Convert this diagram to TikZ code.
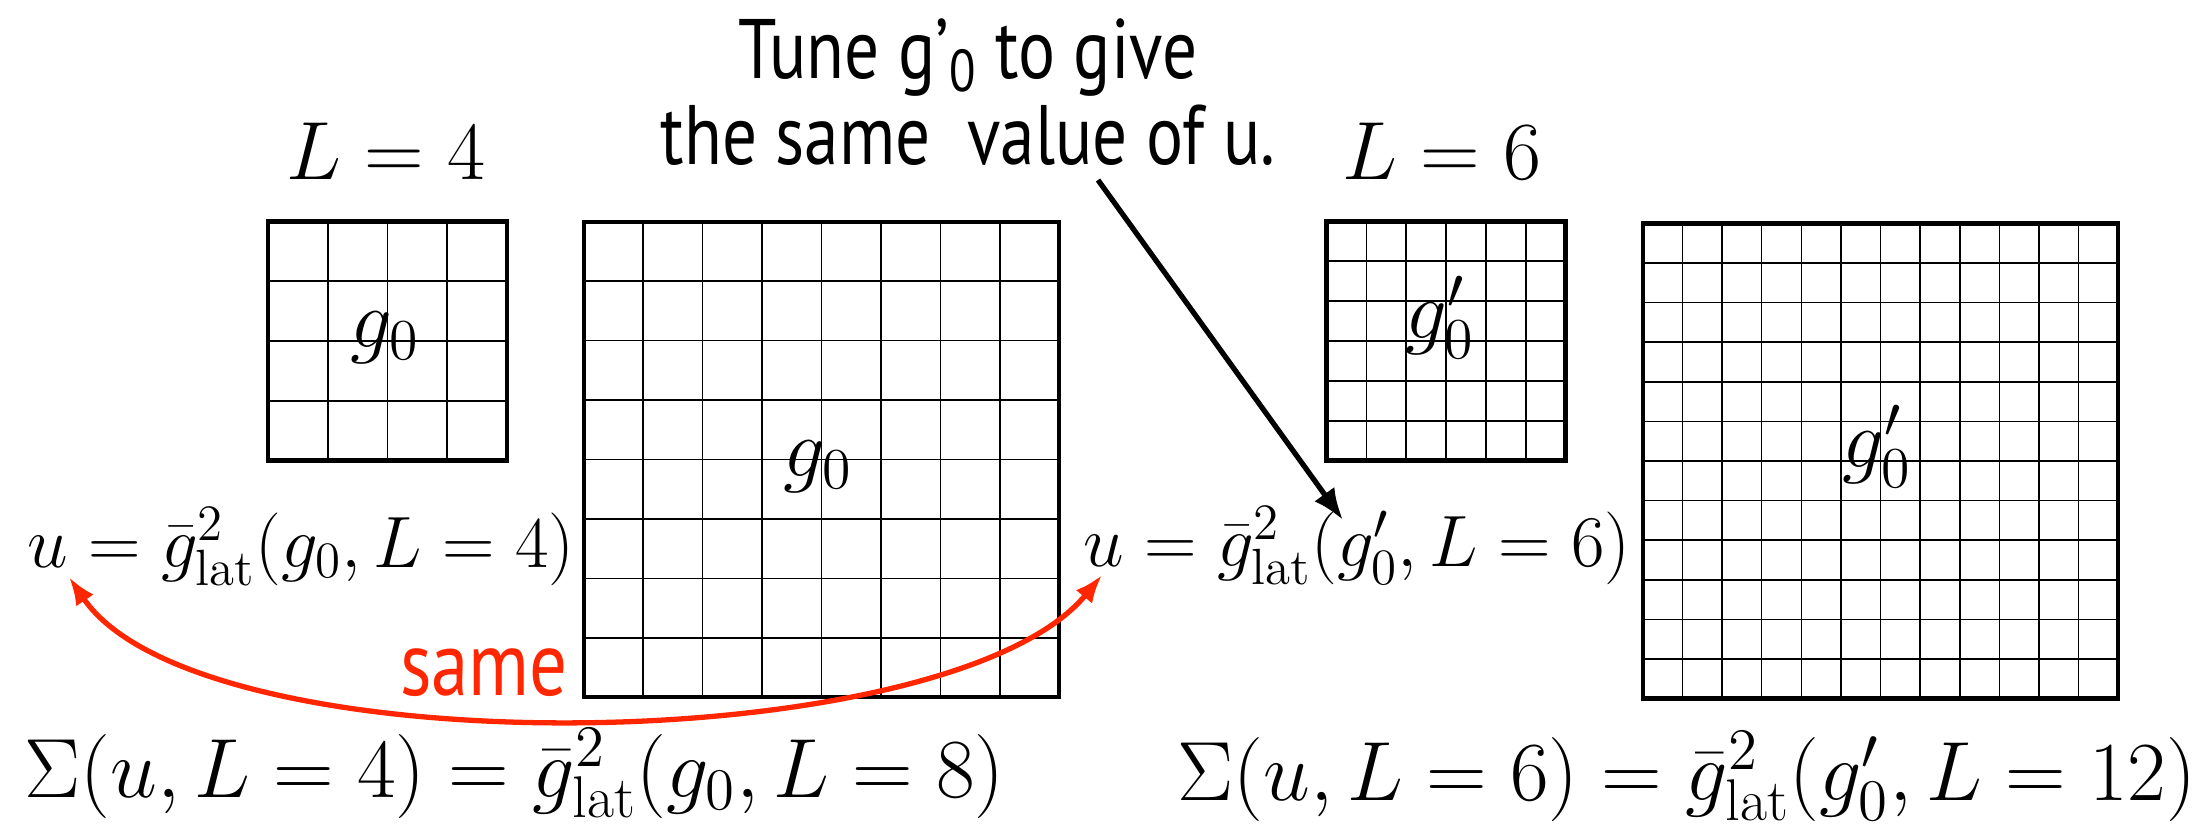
\RequirePackage{fix-cm}
\documentclass[tikz,border=0pt]{standalone}
\usepackage{fontspec}
\newfontfamily\slidefont[FakeStretch=0.82]{PT Sans}
\usetikzlibrary{arrows.meta,calc}
\definecolor{sameRed}{RGB}{255,38,0}
\tikzset{
  lattice frame/.style={draw=black,line width=1.3pt,minimum size=#1,inner sep=0pt,outer sep=0pt},
  lattice line/.style={draw=black,line width=0.45pt},
  math label/.style={font=\fontsize{23.5}{27}\selectfont,inner sep=0pt,anchor=base},
  formula/.style={font=\fontsize{20.7}{24}\selectfont,inner sep=0pt,anchor=base west},
  big formula/.style={font=\fontsize{23.9}{28}\selectfont,inner sep=0pt,anchor=base west},
  slide text/.style={font=\slidefont\fontsize{24}{24.5}\selectfont,inner sep=0pt,align=center},
  tune arrow/.style={-{Latex[length=9pt,width=7pt]},line width=1.5pt,draw=black},
  same arrow/.style={{Latex[length=8pt,width=6pt]}-{Latex[length=8pt,width=6pt]},line width=1.5pt,draw=sameRed}
}

\begin{document}
\begin{tikzpicture}[x=0.01cm,y=-0.01cm]
  \useasboundingbox (0,0) rectangle (2211,830);
  % the four lattices
  \node[lattice frame=2.39cm] (smallA) at (387.5,341) {};
  \node[lattice frame=4.75cm] (bigA) at (821.5,459.5) {};
  \node[lattice frame=2.39cm] (smallB) at (1446,341) {};
  \node[lattice frame=4.75cm] (bigB) at (1880.5,461) {};
  \foreach \lat/\n in {smallA/4,bigA/8,smallB/6,bigB/12}{
    \pgfmathtruncatemacro\m{\n-1}
    \foreach \i in {1,...,\m}{
      \draw[lattice line] ($(\lat.north west)!\i/\n!(\lat.north east)$) -- ($(\lat.south west)!\i/\n!(\lat.south east)$);
      \draw[lattice line] ($(\lat.north west)!\i/\n!(\lat.south west)$) -- ($(\lat.north east)!\i/\n!(\lat.south east)$);
    }
  }
  % couplings and sizes
  \node[math label] (sizeA) at (386,179) {$L=4$};
  \node[math label] (sizeB) at (1442,179) {$L=6$};
  \node[math label] (coupA) at (385,347) {$g_0$};
  \node[math label] (coupAA) at (818,476) {$g_0$};
  \node[math label] (coupB) at (1440,338) {$g'_0$};
  \node[math label] (coupBB) at (1877,467) {$g'_0$};
  % formulas
  \node[formula] (ulatA) at (27,567) {$u=\bar g^2_{\mathrm{lat}}(g_0,L=4)$};
  \node[formula] (ulatB) at (1083,566) {$u=\bar g^2_{\mathrm{lat}}(g'_0,L=6)$};
  \node[big formula] (sigmaA) at (24,797) {$\Sigma(u,L=4)=\bar g^2_{\mathrm{lat}}(g_0,L=8)$};
  \node[big formula] (sigmaB) at (1177,800) {$\Sigma(u,L=6)=\bar g^2_{\mathrm{lat}}(g'_0,L=12)$};
  % tuning note
  \node[slide text] (tune) at (968,92) {Tune g’\textsubscript{0} to give\\the same\ \ value of u.};
  \coordinate (tunefoot) at (1098,180);
  \coordinate (gprime) at (1343,520);
  \draw[tune arrow] (tunefoot) -- (gprime);
  % same u on both sides
  \coordinate (uA) at (69,577);
  \coordinate (uB) at (1102,575);
  \draw[same arrow] (uA) .. controls (200,770) and (950,760) .. (uB);
  \node[font=\slidefont\fontsize{26}{28}\selectfont,text=sameRed,inner sep=0pt,anchor=base] (same) at (484,695) {same};
\end{tikzpicture}
\end{document}
